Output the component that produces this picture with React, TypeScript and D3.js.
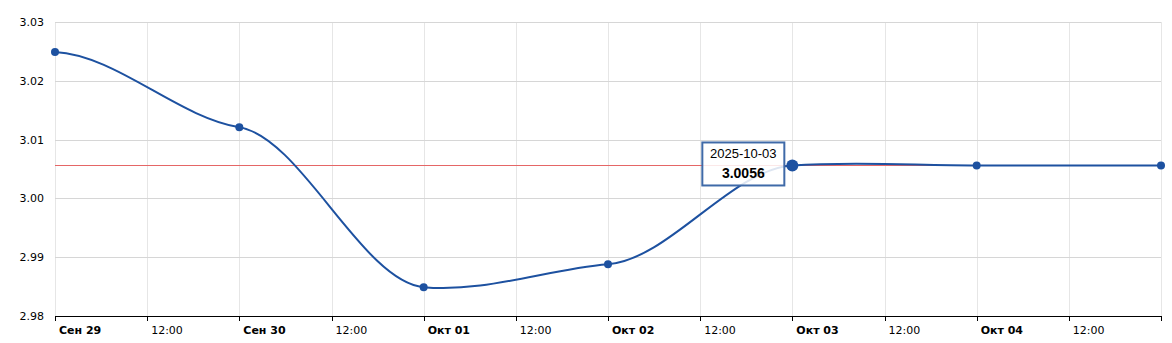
import React, { useEffect, useRef } from "react";
import * as d3 from "d3";

const dates = ["2025-09-29", "2025-09-30", "2025-10-01", "2025-10-02", "2025-10-03", "2025-10-04", "2025-10-05"];
const values = [3.0249, 3.0121, 2.9849, 2.9888, 3.0056, 3.0056, 3.0056];
const yTicks = [2.98, 2.99, 3.0, 3.01, 3.02, 3.03];
const dayLabels = ["Сен 29", "Сен 30", "Окт 01", "Окт 02", "Окт 03", "Окт 04"];
const halfLabel = "12:00";
const tooltipDate = "2025-10-03";
const tooltipValue = "3.0056";
const highlightIndex = 4;
const refValue = 3.0056;

const W = 1172, H = 343;
const M = { left: 55, right: 11, top: 22, bottom: 27 };
const FONT = "'DejaVu Sans', Verdana, sans-serif";
const TIP_FONT = "'Liberation Sans', Arial, sans-serif";
const BLUE = "#1d51a0";

// smooth Hermite spline with damped tangents
function splinePath(pts: [number, number][], k: number): string {
  const n = pts.length;
  const m: number[] = pts.map((p, i) => {
    if (i === 0) return (k * 0.5 * (pts[1][1] - p[1])) / (pts[1][0] - p[0]);
    if (i === n - 1) return (k * 0.5 * (p[1] - pts[i - 1][1])) / (p[0] - pts[i - 1][0]);
    return (k * (pts[i + 1][1] - pts[i - 1][1])) / (pts[i + 1][0] - pts[i - 1][0]);
  });
  const path = d3.path();
  path.moveTo(pts[0][0], pts[0][1]);
  for (let i = 0; i < n - 1; i++) {
    const [x0, y0] = pts[i];
    const [x1, y1] = pts[i + 1];
    const h = (x1 - x0) / 3;
    path.bezierCurveTo(x0 + h, y0 + m[i] * h, x1 - h, y1 - m[i + 1] * h, x1, y1);
  }
  return path.toString();
}

export default function App() {
  const ref = useRef<SVGSVGElement>(null);
  useEffect(() => {
    const svg = d3.select(ref.current);
    svg.selectAll("*").remove();
    const parse = d3.utcParse("%Y-%m-%d");
    const ds = dates.map((d) => parse(d) as Date);
    const x = d3.scaleUtc().domain([ds[0], ds[ds.length - 1]]).range([M.left, W - M.right]);
    const y = d3.scaleLinear().domain([2.98, 3.03]).range([H - M.bottom, M.top]);

    const halfTicks = d3.utcHour.every(12)!.range(ds[0], d3.utcHour.offset(ds[ds.length - 1], 1));
    svg.append("g").selectAll("line").data(halfTicks).join("line")
      .attr("x1", (d) => Math.round(x(d)) + 0.5).attr("x2", (d) => Math.round(x(d)) + 0.5)
      .attr("y1", M.top).attr("y2", H - M.bottom)
      .attr("stroke", "#e6e6e6").attr("stroke-width", 1);

    svg.append("g").selectAll("line").data(yTicks).join("line")
      .attr("x1", M.left).attr("x2", W - M.right)
      .attr("y1", (d) => Math.round(y(d)) + 0.5).attr("y2", (d) => Math.round(y(d)) + 0.5)
      .attr("stroke", "#d6d6d6").attr("stroke-width", 1);

    svg.append("g").selectAll("text").data(yTicks).join("text")
      .attr("x", 44).attr("y", (d) => y(d) + 4)
      .attr("text-anchor", "end").attr("font-family", FONT).attr("font-size", 11).attr("fill", "#000")
      .text((d) => d3.format(".2f")(d));

    svg.append("line").attr("x1", M.left).attr("x2", W - M.right)
      .attr("y1", H - M.bottom + 0.5).attr("y2", H - M.bottom + 0.5)
      .attr("stroke", "#000").attr("stroke-width", 1);
    svg.append("g").selectAll("line").data(halfTicks).join("line")
      .attr("x1", (d) => Math.round(x(d)) + 0.5).attr("x2", (d) => Math.round(x(d)) + 0.5)
      .attr("y1", H - M.bottom).attr("y2", H - M.bottom + 5)
      .attr("stroke", "#000").attr("stroke-width", 1);
    svg.append("g").selectAll("text").data(halfTicks.slice(0, halfTicks.length - 1)).join("text")
      .attr("x", (d) => x(d) + 4).attr("y", H - M.bottom + 18)
      .attr("font-family", FONT).attr("font-size", 11)
      .attr("font-weight", (d, i) => (i % 2 === 0 ? "bold" : "normal"))
      .attr("fill", "#000")
      .text((d, i) => (i % 2 === 0 ? dayLabels[i / 2] : halfLabel));

    svg.append("line").attr("x1", M.left).attr("x2", W - M.right)
      .attr("y1", Math.round(y(refValue)) + 0.5).attr("y2", Math.round(y(refValue)) + 0.5)
      .attr("stroke", "#e56666").attr("stroke-width", 1);

    const pts: [number, number][] = ds.map((d, i) => [x(d), y(values[i])]);
    svg.append("path").attr("d", splinePath(pts, 0.25)).attr("fill", "none")
      .attr("stroke", BLUE).attr("stroke-width", 2);

    svg.append("g").selectAll("circle").data(pts).join("circle")
      .attr("cx", (d) => d[0]).attr("cy", (d) => d[1])
      .attr("r", (d, i) => (i === highlightIndex ? 6 : 4))
      .attr("fill", BLUE);

    const [hx, hy] = pts[highlightIndex];
    const bw = 82, bh = 43;
    const bx = hx - 90, by = hy - 23;
    const tg = svg.append("g");
    tg.append("rect").attr("x", bx).attr("y", by).attr("width", bw).attr("height", bh)
      .attr("fill", "rgba(255,255,255,0.85)").attr("stroke", "#3f6aa8").attr("stroke-width", 2);
    tg.append("text").attr("x", bx + bw / 2).attr("y", by + 16).attr("text-anchor", "middle")
      .attr("font-family", TIP_FONT).attr("font-size", 13).attr("fill", "#000").text(tooltipDate);
    tg.append("text").attr("x", bx + bw / 2).attr("y", by + 36).attr("text-anchor", "middle")
      .attr("font-family", TIP_FONT).attr("font-size", 14).attr("font-weight", "bold").attr("fill", "#000").text(tooltipValue);
  }, []);
  return (
    <svg ref={ref} width={W} height={H} style={{ position: "absolute", left: 0, top: 0, background: "#fff" }} />
  );
}
